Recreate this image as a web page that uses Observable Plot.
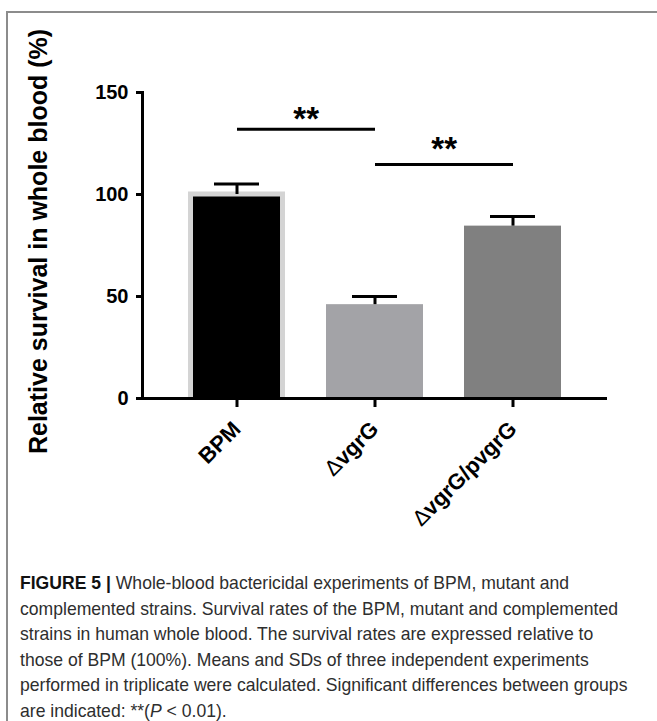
<!DOCTYPE html>
<html>
<head>
<meta charset="utf-8">
<script src="https://cdn.jsdelivr.net/npm/d3@7"></script>
<script src="https://cdn.jsdelivr.net/npm/@observablehq/plot@0.6"></script>
<style>
  html, body { margin: 0; padding: 0; background: #fff; }
  body { width: 657px; height: 721px; overflow: hidden; position: relative; font-family: "Liberation Sans", Arial, sans-serif; }
  #frame { position: absolute; left: 6px; top: 11px; width: 700px; height: 760px; border-top: 2px solid #8c8c8c; border-left: 2px solid #8c8c8c; }
  #chart { position: absolute; left: 0; top: 0; }
  #caption { position: absolute; left: 20px; top: 571px; color: #2e2e2e; }
  #caption div { white-space: nowrap; }
  #caption b { color: #111; }
</style>
</head>
<body>
<div id="frame"></div>
<div id="chart"></div>
<div id="caption"></div>
<script>
// ---- data ----
const categories = ["BPM", "ΔvgrG", "ΔvgrG/pvgrG"];
const means = [100, 46, 84.5];
const sds = [5.2, 4, 4.7];
const barColors = ["#000000", "#a3a3a7", "#808080"];
const yTicks = [0, 50, 100, 150];
const yDomain = [0, 150];
const comparisons = [["BPM", "ΔvgrG"], ["ΔvgrG", "ΔvgrG/pvgrG"]];
const sigLineY = [132, 114.7];
const sigStarY = [137, 122.3];
const sigLabels = ["**", "**"];
const yLabel = "Relative survival in whole blood (%)";
const captionLines = [
  "<b>FIGURE 5 |</b> Whole-blood bactericidal experiments of BPM, mutant and",
  "complemented strains. Survival rates of the BPM, mutant and complemented",
  "strains in human whole blood. The survival rates are expressed relative to",
  "those of BPM (100%). Means and SDs of three independent experiments",
  "performed in triplicate were calculated. Significant differences between groups",
  "are indicated: **(<i>P</i> &lt; 0.01)."
];

// ---- layout ----
const W = 657, H = 560, mL = 142, mR = 50, mT = 92, mB = 162;
const pI = 0.3, pO = 0.33;
const step = (W - mL - mR) / (categories.length - pI + 2 * pO);

const rows = categories.map((c, i) => ({cat: c, mean: means[i], top: means[i] + sds[i], color: barColors[i]}));
const sig = comparisons.map((p, i) => ({a: p[0], b: p[1], y: sigLineY[i], ys: sigStarY[i], label: sigLabels[i]}));
const first = rows.filter(d => d.cat === categories[0]);
const rest = rows.filter(d => d.cat !== categories[0]);

const plot = Plot.plot({
  width: W, height: H,
  marginLeft: mL, marginRight: mR, marginTop: mT, marginBottom: mB,
  style: {fontFamily: "'Liberation Sans', Arial, sans-serif", fontWeight: "bold", color: "#000", background: "transparent"},
  x: {type: "band", domain: categories, paddingInner: pI, paddingOuter: pO, align: 0.5},
  y: {domain: yDomain},
  marks: [
    // first bar: black with light grey rim
    Plot.barY(first, {x: "cat", y: "mean", fill: "#d4d4d4", insetTop: -2.5}),
    Plot.barY(first, {x: "cat", y: "mean", fill: "color", insetLeft: 5, insetRight: 5, insetTop: 2.5}),
    Plot.barY(rest, {x: "cat", y: "mean", fill: "color"}),
    // error bars (upper only)
    Plot.ruleX(rows, {x: "cat", y1: "mean", y2: "top", stroke: "#000", strokeWidth: 3}),
    Plot.tickY(rows, {x: "cat", y: "top", stroke: "#000", strokeWidth: 3, insetLeft: 26, insetRight: 26}),
    // significance
    Plot.link(sig, {x1: "a", x2: "b", y1: "y", y2: "y", stroke: "#000", strokeWidth: 3}),
    Plot.text(sig, {x: "a", y: "ys", text: "label", dx: step / 2, fontSize: 33, fontWeight: "bold", fill: "#000"}),
    // axes
    Plot.ruleY([0], {stroke: "#000", strokeWidth: 3}),
    Plot.frame({anchor: "left", stroke: "#000", strokeWidth: 3}),
    Plot.axisY({ticks: yTicks, tickSize: 6, tickPadding: 8, strokeWidth: 3, fontSize: 20, fontWeight: "bold", label: null}),
    Plot.axisX({tickSize: 9, tickPadding: 18, strokeWidth: 3, tickRotate: -45, fontSize: 22, fontWeight: "bold", label: null}),
    Plot.text([yLabel], {frameAnchor: "left", textAnchor: "middle", dx: -104, dy: -4, rotate: -90, fontSize: 25, fontWeight: "bold", fill: "#000"})
  ]
});

// thin delta glyph in category labels
d3.select(plot).selectAll("g[aria-label='x-axis tick label'] text").each(function () {
  const t = this.textContent;
  if (t.startsWith("Δ")) {
    this.textContent = "";
    d3.select(this).append("tspan").attr("font-weight", "normal").text("Δ");
    d3.select(this).append("tspan").text(t.slice(1));
  }
});

document.getElementById("chart").appendChild(plot);

// caption
const cap = document.getElementById("caption");
const ctx = document.createElement("canvas").getContext("2d");
ctx.font = "16px 'Liberation Sans', Arial, sans-serif";
const targetW = 608;
const refW = ctx.measureText("performed in triplicate were calculated. Significant differences between groups").width;
const fs = 16 * targetW / refW;
cap.style.fontSize = fs + "px";
cap.style.lineHeight = "25.5px";
captionLines.forEach(l => { const d = document.createElement("div"); d.innerHTML = l; cap.appendChild(d); });
</script>
</body>
</html>
